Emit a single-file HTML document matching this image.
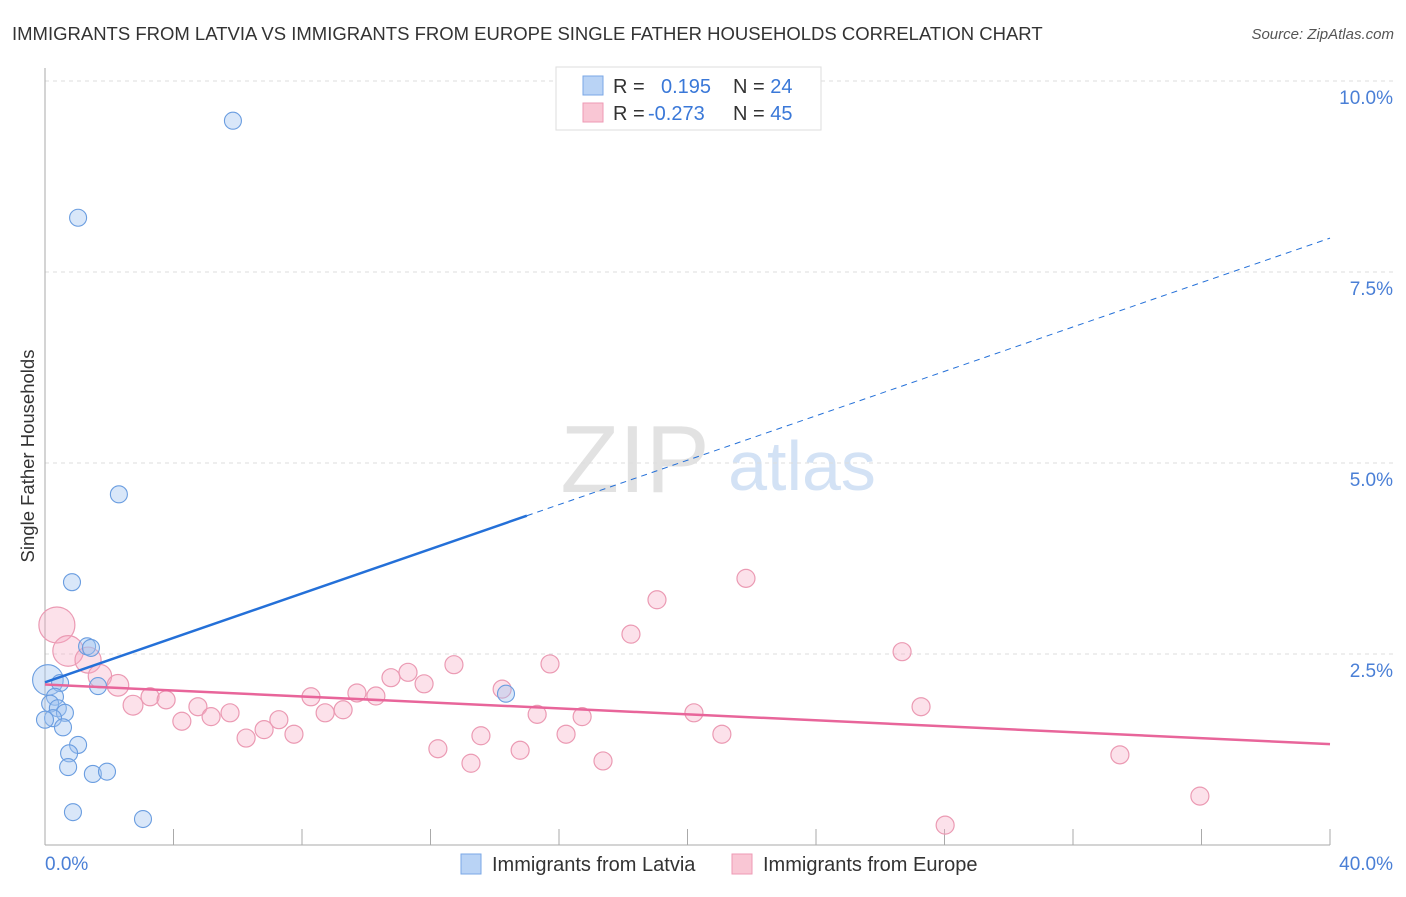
<!DOCTYPE html>
<html><head><meta charset="utf-8"><style>
body{margin:0;background:#fff;font-family:"Liberation Sans",sans-serif;}
svg text{font-family:"Liberation Sans",sans-serif;}
</style></head><body>
<svg id="chart" width="1406" height="892">
<text x="12" y="40" font-size="18.5" fill="#333">IMMIGRANTS FROM LATVIA VS IMMIGRANTS FROM EUROPE SINGLE FATHER HOUSEHOLDS CORRELATION CHART</text>
<text x="1394" y="39" font-size="15" fill="#555" font-style="italic" text-anchor="end">Source: ZipAtlas.com</text>
<text x="635" y="492" font-size="96" fill="#e2e2e2" font-family="Liberation Serif,serif" text-anchor="middle">ZIP</text>
<text x="802" y="490" font-size="70" fill="#d3e2f5" text-anchor="middle">atlas</text>
<text transform="translate(34,456) rotate(-90)" font-size="18.5" fill="#333" text-anchor="middle">Single Father Households</text>
<g id="grid"></g><g id="pts"></g><g id="lines"></g>
<g>
<rect x="556" y="67" width="265" height="63" fill="#fff" stroke="#ddd"/>
<rect x="583" y="76" width="20" height="19" fill="#b9d3f5" stroke="#7aa7e6"/>
<rect x="583" y="103" width="20" height="19" fill="#f9c6d4" stroke="#ee9ab4"/>
<text x="613" y="93" font-size="20" fill="#333">R = <tspan x="661" fill="#3a78d8">0.195</tspan><tspan x="733" fill="#333">N = </tspan><tspan fill="#3a78d8">24</tspan></text>
<text x="613" y="120" font-size="20" fill="#333">R = <tspan x="648" fill="#3a78d8">-0.273</tspan><tspan x="733" fill="#333">N = </tspan><tspan fill="#3a78d8">45</tspan></text>
</g>
<g>
<rect x="461" y="854" width="20" height="20" fill="#b9d3f5" stroke="#7aa7e6"/>
<text x="492" y="871" font-size="20" fill="#333">Immigrants from Latvia</text>
<rect x="732" y="854" width="20" height="20" fill="#f9c6d4" stroke="#ee9ab4"/>
<text x="763" y="871" font-size="20" fill="#333">Immigrants from Europe</text>
</g>
<text x="45" y="870" font-size="19" fill="#4a7fd6">0.0%</text>
<text x="1393" y="870" font-size="19" fill="#4a7fd6" text-anchor="end">40.0%</text>
</svg>
<script>
const yTicks=[2.5,5.0,7.5,10.0];
const yTickLabels=["2.5%","5.0%","7.5%","10.0%"];
const xTicks=[0,4,8,12,16,20,24,28,32,36,40];
const latviaX=[5.85,1.03,2.30,0.84,1.31,1.43,1.65,0.09,0.47,0.31,0.16,0.40,0.62,0.25,0.56,1.03,0.75,0.72,1.49,1.93,0.87,3.05,14.35,0.0];
const latviaY=[9.48,8.21,4.59,3.44,2.60,2.58,2.08,2.16,2.12,1.94,1.85,1.79,1.73,1.66,1.54,1.31,1.20,1.02,0.93,0.96,0.43,0.34,1.98,1.64];
const latviaSize=[1,1,1,1,1,1,1,1.8,1,1,1,1,1,1,1,1,1,1,1,1,1,1,1,1];
const europeX=[0.37,0.72,1.34,1.71,2.27,2.74,3.27,3.77,4.26,4.76,5.17,5.76,6.26,6.82,7.28,7.75,8.28,8.72,9.28,9.71,10.30,10.77,11.30,11.80,12.23,12.73,13.26,13.57,14.23,14.79,15.32,15.72,16.22,16.72,17.37,18.24,19.05,20.20,21.07,21.82,26.68,27.27,28.02,33.46,35.95];
const europeY=[2.88,2.54,2.42,2.21,2.09,1.83,1.94,1.90,1.62,1.81,1.68,1.73,1.40,1.51,1.64,1.45,1.94,1.73,1.77,1.99,1.95,2.19,2.26,2.11,1.26,2.36,1.07,1.43,2.04,1.24,1.71,2.37,1.45,1.68,1.10,2.76,3.21,1.73,1.45,3.49,2.53,1.81,0.26,1.18,0.64];
const europeSize=[2,1.7,1.45,1.3,1.2,1.1,1,1,1,1,1,1,1,1,1,1,1,1,1,1,1,1,1,1,1,1,1,1,1,1,1,1,1,1,1,1,1,1,1,1,1,1,1,1,1];
const latviaTrend=[2.13,4.31];
const europeTrend=[2.10,1.32];
const X0=45,X1=1330,Y0=845;
const sx=v=>X0+v/40*(X1-X0);
const sy=v=>Y0-v/2.5*191;
const NS='http://www.w3.org/2000/svg';
function mk(t,a,p){const e=document.createElementNS(NS,t);for(const k in a)e.setAttribute(k,a[k]);p.appendChild(e);return e;}
const grid=document.getElementById('grid');
yTicks.forEach((v,i)=>{
 const l=mk('line',{x1:X0,x2:1394,y1:sy(v),y2:sy(v),stroke:'#ddd','stroke-dasharray':'4,4'},grid);
 
 
 const t=mk('text',{x:1393,y:sy(v)+23,'font-size':19,fill:'#4a7fd6','text-anchor':'end'},grid);
 t.textContent=yTickLabels[i];
 
 
});
const ax=mk('line',{x1:X0,x2:X0,y1:68,y2:Y0,stroke:'#aaa'},grid);


const bx=mk('line',{x1:X0,x2:X1,y1:Y0,y2:Y0,stroke:'#aaa'},grid);


xTicks.forEach(v=>{
 const t=mk('line',{x1:sx(v),x2:sx(v),y1:829,y2:Y0,stroke:'#aaa'},grid);
 
 
});
const pts=document.getElementById('pts');
europeX.forEach((v,i)=>{
 const c=mk('circle',{cx:sx(v),cy:sy(europeY[i]),r:9*europeSize[i],fill:'rgba(246,170,194,0.35)',stroke:'#eb9ab3','stroke-width':1.2},pts);
 
 
});
latviaX.forEach((v,i)=>{
 const c=mk('circle',{cx:sx(v),cy:sy(latviaY[i]),r:8.5*latviaSize[i],fill:'rgba(160,196,240,0.4)',stroke:'#6a9de0','stroke-width':1.1},pts);
 
 
});
const lines=document.getElementById('lines');
const slope=(latviaTrend[1]-latviaTrend[0])/15;
const b1=mk('line',{x1:sx(0),y1:sy(latviaTrend[0]),x2:sx(15),y2:sy(latviaTrend[1]),stroke:'#2470d8','stroke-width':2.5},lines);


const b2=mk('line',{x1:sx(15),y1:sy(latviaTrend[1]),x2:sx(40),y2:sy(latviaTrend[0]+slope*40),stroke:'#2470d8','stroke-width':1,'stroke-dasharray':'6,5'},lines);


const p1=mk('line',{x1:sx(0),y1:sy(europeTrend[0]),x2:sx(40),y2:sy(europeTrend[1]),stroke:'#e8659a','stroke-width':2.5},lines);


</script>
</body></html>
